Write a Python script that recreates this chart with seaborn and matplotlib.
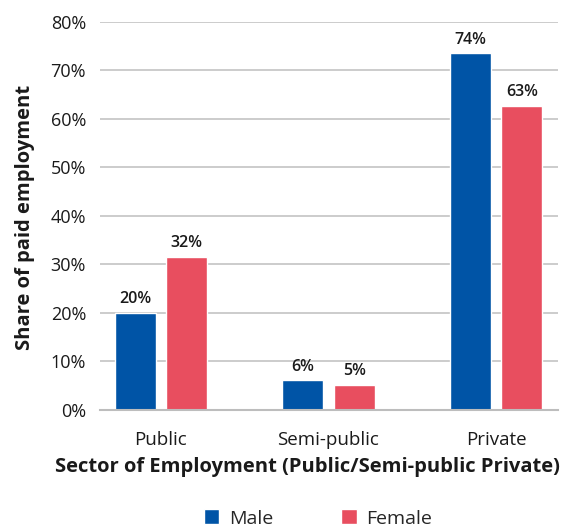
import matplotlib
matplotlib.use("Agg")
import matplotlib.pyplot as plt
import seaborn as sns
import pandas as pd

sectors = ["Public", "Semi-public", "Private"]
male = [20.0, 6.1, 73.5]
female = [31.6, 5.2, 62.7]
male_labels = ["20%", "6%", "74%"]
female_labels = ["32%", "5%", "63%"]
y_ticks = [0, 10, 20, 30, 40, 50, 60, 70, 80]

sns.set_theme(style="white")
plt.rcParams["font.family"] = ["Open Sans", "DejaVu Sans"]

df = pd.DataFrame({
    "Sector": sectors * 2,
    "Share": male + female,
    "Sex": ["Male"] * 3 + ["Female"] * 3,
})

fig = plt.figure(figsize=(5.62, 5.29), dpi=100)
ax = fig.add_axes([100 / 562, 1 - 410 / 529, 458 / 562, (410 - 21.7) / 529])

palette = {"Male": "#0054A6", "Female": "#E84E5F"}
sns.barplot(data=df, x="Sector", y="Share", hue="Sex", palette=palette,
            width=0.614, gap=0.21, ax=ax, legend=True, saturation=1)

ax.set_ylim(0, 80)
ax.set_xlim(-0.364, 2.37)
ax.set_yticks(y_ticks)
ax.set_yticklabels([f"{v}%" for v in y_ticks])
ax.yaxis.grid(True, color="#c4c4c4", linewidth=1.2)
ax.set_axisbelow(True)
for s in ["top", "right", "left"]:
    ax.spines[s].set_visible(False)
ax.spines["bottom"].set_color("#bdbdbd")
ax.spines["bottom"].set_linewidth(1.5)
ax.tick_params(axis="y", length=0, labelsize=13, colors="#1a1a1a", pad=10)
ax.tick_params(axis="x", length=0, labelsize=13.5, colors="#1a1a1a", pad=15)

for cont, labs in zip(ax.containers, [male_labels, female_labels]):
    ax.bar_label(cont, labels=labs, padding=4, fontsize=11.5,
                 fontweight="semibold", color="#1a1a1a")

ax.set_xlabel("Sector of Employment (Public/Semi-public Private)",
              fontsize=14.5, fontweight="bold", color="#1a1a1a")
ax.xaxis.set_label_coords((307 - 100) / 458, -(467 - 410) / 388.3)
ax.xaxis.label.set_va("center")
ax.set_ylabel("Share of paid employment", fontsize=14.5, fontweight="bold",
              color="#1a1a1a")
ax.yaxis.set_label_coords(-(100 - 25) / 458, (410 - 217) / 388.3)
ax.yaxis.label.set_va("center")

handles, labels = ax.get_legend_handles_labels()
ax.legend_.remove()
fig.legend(handles, labels, loc="center", bbox_to_anchor=(318 / 562, 0.02),
           ncol=2, frameon=False, fontsize=14, handlelength=0.8,
           handleheight=0.8, columnspacing=3.5, handletextpad=0.5)

fig.savefig("out.png", dpi=100)
